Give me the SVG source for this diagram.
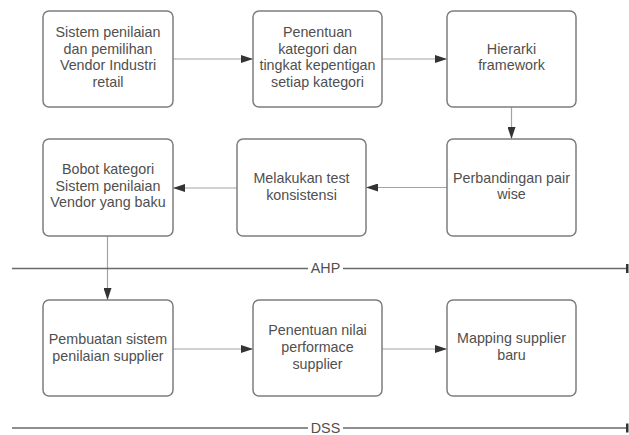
<svg xmlns="http://www.w3.org/2000/svg" width="629" height="435" viewBox="0 0 629 435">
<defs>
<style>
.box{fill:#ffffff;stroke:#7d7d7d;stroke-width:1.5}
.t{font-family:"Liberation Sans",Arial,sans-serif;font-size:14.3px;fill:#4f4f4f;text-anchor:middle}
.c{fill:none;stroke:#a3a3a3;stroke-width:1.2}
.sep{fill:none;stroke:#6a6a6a;stroke-width:1.3}
</style>
<marker id="ah" markerUnits="userSpaceOnUse" markerWidth="12" markerHeight="8" refX="12" refY="4" orient="auto">
<path d="M0,0 L12,4 L0,8 z" fill="#333333"/>
</marker>
</defs>
<rect width="629" height="435" fill="#ffffff"/>
<g id="connectors">
<path class="c" d="M173,59 H253" marker-end="url(#ah)"/>
<path class="c" d="M382,59 H447" marker-end="url(#ah)"/>
<path class="c" d="M511.5,107 V139" marker-end="url(#ah)"/>
<path class="c" d="M447,187.5 H366" marker-end="url(#ah)"/>
<path class="c" d="M237,188 H173" marker-end="url(#ah)"/>
<path class="c" d="M107.5,236 V300" marker-end="url(#ah)"/>
<path class="c" d="M173,349 H253" marker-end="url(#ah)"/>
<path class="c" d="M382,349 H447" marker-end="url(#ah)"/>
</g>
<g id="sep-ahp">
<path class="sep" d="M12,268.5 H308 M343,268.5 H627"/>
<rect x="626" y="264" width="2.5" height="9" fill="#333333"/>
<text class="t" x="325.5" y="273">AHP</text>
</g>
<g id="sep-dss">
<path class="sep" d="M12,428 H308 M343,428 H627"/>
<rect x="626" y="423.5" width="2.5" height="9" fill="#333333"/>
<text class="t" x="325.5" y="433">DSS</text>
</g>
<g id="n1">
<rect class="box" x="43" y="11" width="130" height="96" rx="6"/>
<text class="t" x="108" y="37">Sistem penilaian</text>
<text class="t" x="108" y="53.7">dan pemilihan</text>
<text class="t" x="108" y="70.4">Vendor Industri</text>
<text class="t" x="108" y="87.1">retail</text>
</g>
<g id="n2">
<rect class="box" x="253" y="11" width="129" height="96" rx="6"/>
<text class="t" x="317.5" y="37">Penentuan</text>
<text class="t" x="317.5" y="53.7">kategori dan</text>
<text class="t" x="317.5" y="70.4">tingkat kepentigan</text>
<text class="t" x="317.5" y="87.1">setiap kategori</text>
</g>
<g id="n3">
<rect class="box" x="447" y="11" width="129" height="96" rx="6"/>
<text class="t" x="511.5" y="53.5">Hierarki</text>
<text class="t" x="511.5" y="70.2">framework</text>
</g>
<g id="n4">
<rect class="box" x="447" y="139" width="129" height="97" rx="6"/>
<text class="t" x="511.5" y="182.5">Perbandingan pair</text>
<text class="t" x="511.5" y="199.2">wise</text>
</g>
<g id="n5">
<rect class="box" x="237" y="139" width="129" height="97" rx="6"/>
<text class="t" x="301.5" y="183">Melakukan test</text>
<text class="t" x="301.5" y="199.7">konsistensi</text>
</g>
<g id="n6">
<rect class="box" x="43" y="139" width="130" height="97" rx="6"/>
<text class="t" x="108" y="174">Bobot kategori</text>
<text class="t" x="108" y="190.7">Sistem penilaian</text>
<text class="t" x="108" y="207.4">Vendor yang baku</text>
</g>
<g id="n7">
<rect class="box" x="43" y="300" width="130" height="96" rx="6"/>
<text class="t" x="108" y="343.5">Pembuatan sistem</text>
<text class="t" x="108" y="361">penilaian supplier</text>
</g>
<g id="n8">
<rect class="box" x="253" y="300" width="129" height="96" rx="6"/>
<text class="t" x="317.5" y="335">Penentuan nilai</text>
<text class="t" x="317.5" y="352">performace</text>
<text class="t" x="317.5" y="369">supplier</text>
</g>
<g id="n9">
<rect class="box" x="447" y="300" width="129" height="96" rx="6"/>
<text class="t" x="511.5" y="343">Mapping supplier</text>
<text class="t" x="511.5" y="360">baru</text>
</g>
</svg>
